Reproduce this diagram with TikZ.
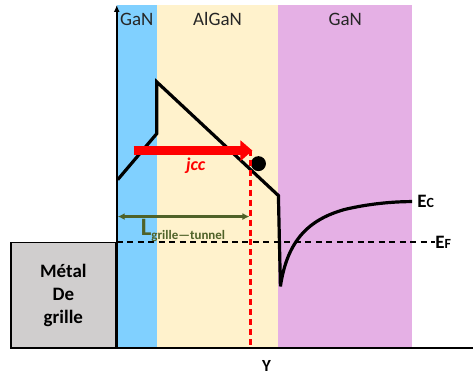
\documentclass[tikz,border=0pt]{standalone}
\usepackage{fontspec}
\setmainfont{Carlito}
\usetikzlibrary{positioning,calc,arrows.meta}
\definecolor{ganblue}{RGB}{128,208,255}
\definecolor{algfill}{RGB}{255,242,204}
\definecolor{ganpurple}{RGB}{229,176,229}
\definecolor{metalgray}{RGB}{208,206,206}
\definecolor{lgreen}{RGB}{79,98,40}
\definecolor{jred}{RGB}{255,0,0}

\begin{document}
\begin{tikzpicture}[
  x=1pt, y=1pt,
  layer/.style={font=\fontsize{19}{22}\selectfont, text=black!85},
  band/.style={line width=3.2pt, black, line join=miter},
  fermi/.style={line width=2pt, dash pattern=on 6pt off 4.5pt},
  jarr/.style={-{Triangle[length=12pt, width=20pt]}, line width=9.5pt, jred},
  larr/.style={{Latex[length=7pt,width=7pt]}-{Latex[length=7pt,width=7pt]}, line width=2.4pt, lgreen},
  lvl/.style={font=\bfseries\fontsize{19}{22}\selectfont},
]

% background and frame of the picture
\fill[white] (0,0) rectangle (474,376);

% layers
\fill[ganblue]   (117,27) rectangle (157,371);
\fill[algfill]   (157,27) rectangle (279,371);
\fill[ganpurple] (279,27) rectangle (413,371);
\node[layer] (gan1) at (137,357) {GaN};
\node[layer] (algan) at (218,357) {AlGaN};
\node[layer] (gan2) at (346,357) {GaN};

% gate metal
\node[draw, line width=1.8pt, fill=metalgray, minimum width=105pt, minimum height=106pt,
      align=center, font=\bfseries\fontsize{19}{23}\selectfont] (metal) at (63.5,80)
  {Métal\\De\\grille};

% axes
\coordinate (O) at (117,27);
\coordinate (ytop) at (117,371);
\coordinate (xend) at (474,27);
\draw[line width=2pt, -{Latex[length=7pt,width=6pt]}] (O) -- (ytop);
\draw[line width=2pt] (O) -- (xend);
\node[font=\bfseries\fontsize{17}{20}\selectfont] (Y) at (267,9) {Y};

% Fermi level
\coordinate (efL) at (117,133);
\coordinate (efR) at (436,133);
\draw[fermi] (efL) -- (efR);
\node[lvl, anchor=west, inner sep=0pt] (EF) at (efR) {E{\fontsize{14}{16}\selectfont F}};

% conduction band
\draw[band] (118,196) -- (157,242) -- (157,294) -- (279,180) -- (281,89)
  .. controls (288,136) and (310,156) .. (345,166)
  .. controls (370,172) and (395,174) .. (413,174);
\node[lvl, anchor=west, inner sep=0pt] (EC) at (418,174) {E{\fontsize{14}{16}\selectfont C}};

% tunnel current
\coordinate (jA) at (134,225);
\coordinate (jB) at (253,225);
\draw[jarr] (jA) -- (jB);
\node[font=\bfseries\itshape\fontsize{18}{20}\selectfont, text=jred] (jcc) at (196,210) {jcc};
\node[circle, fill=black, minimum size=15pt, inner sep=0pt] (e) at (259,212) {};

% tunnel length
\coordinate (tunA) at (251,226);
\coordinate (tunB) at (251,27);
\draw[jred, line width=2.2pt, dash pattern=on 6pt off 4pt] (tunA) -- (tunB);
\coordinate (lA) at (118,159);
\coordinate (lB) at (250,159);
\draw[larr] (lA) -- (lB);
\node[text=lgreen, font=\bfseries, anchor=base west, inner sep=0pt] (lab) at (141,140)
  {\fontsize{25}{25}\selectfont L\raisebox{-4pt}{\fontsize{13}{14}\selectfont grille---tunnel}};

\end{tikzpicture}
\end{document}
